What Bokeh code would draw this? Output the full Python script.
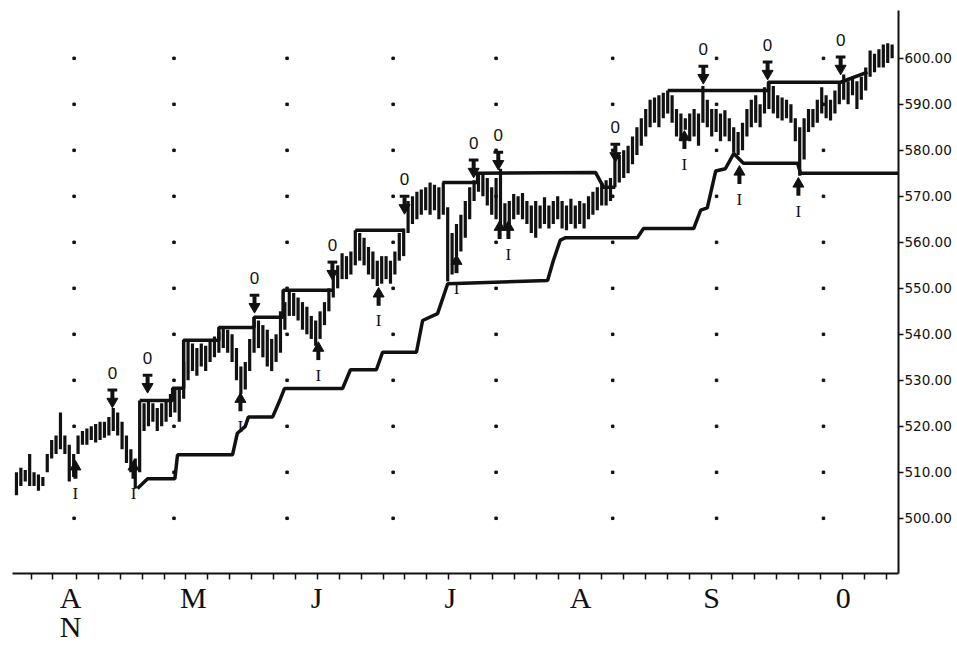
from bokeh.plotting import figure
from bokeh.models import FixedTicker, Range1d, PrintfTickFormatter
from bokeh.core.properties import value
from bokeh.embed import file_html
from bokeh.resources import INLINE

# ---- daily bars (trading day index 0..199) ----
highs = [510, 511, 510.5, 514, 510, 509.5, 509, 514, 517, 518,
         523, 518, 516, 514, 518, 519, 519.5, 520, 520.5, 521,
         521, 522, 524, 523, 521, 518, 515, 513, 525.6, 525,
         525.5, 525, 524, 525, 525.5, 527, 528.3, 528, 534, 538.7,
         538, 537, 538, 537.5, 538.5, 539.5, 540.5, 541.5, 541, 540,
         537, 533, 534, 539, 543.7, 543, 542, 541, 539, 540,
         545, 547, 549.6, 549, 548, 547, 546, 544, 543, 545,
         547, 550, 553, 555, 557.6, 557, 558, 562.6, 562, 561,
         559, 558, 556, 557, 557, 556, 558, 562, 563, 569,
         570, 571, 571.5, 572, 573, 572.5, 572, 573, 567.6, 562,
         564, 566, 569, 572, 573.5, 575, 575.2, 574, 572, 574,
         576, 568.5, 569, 570.5, 570, 570.7, 569, 568, 569, 568,
         569.8, 568, 569, 570, 569, 568, 569.5, 568, 569, 568.5,
         570, 571, 572, 573, 573.5, 574, 578.5, 579, 580, 581,
         583, 585, 587, 589, 591, 591.5, 592, 592.5, 593, 592,
         589, 588, 587, 588, 589, 588, 594, 591, 589, 589,
         588, 588.7, 587, 585, 584, 586, 589, 591, 592, 590,
         593.7, 595, 594, 592, 591.5, 591, 590, 587, 585, 587,
         589, 589, 591, 593.7, 592, 591, 593, 595, 596.5, 595,
         596, 595, 596, 598, 601.7, 601, 602, 603, 603.3, 603]
lows = [505, 507, 508, 507, 507, 506, 507, 510, 513, 514,
        515, 514, 508, 509, 514, 516, 516, 517, 516.5, 517,
        517.5, 518, 519, 518, 515, 512, 510, 506.5, 510, 519,
        520, 521, 519, 520, 521, 522, 523, 521, 526, 530,
        532, 531, 533, 532, 534, 535, 536, 537, 536, 534,
        530, 527, 528, 532, 536, 537, 535, 533, 532, 534,
        536, 541, 544, 544, 543, 541, 540, 539, 537.5, 539,
        542, 545, 548, 550, 552, 552, 553, 555, 556, 555,
        553, 552, 550.5, 551, 552, 551, 553, 556, 557, 562,
        564, 565, 566, 567, 566, 567, 565, 566, 551.5, 553,
        557, 558, 561, 565, 569, 571, 570, 568, 566, 565,
        563, 563, 564, 565, 566, 565, 564, 562, 561, 563,
        564, 563, 564, 565, 563, 562.6, 564, 563, 564, 563,
        565, 566, 567, 568, 568, 569, 572, 573, 574, 575,
        577, 579, 581, 583, 585, 586, 585, 587, 588, 586,
        583, 582, 584.5, 582, 583, 581, 586, 585, 583, 584,
        582, 583, 582, 579.5, 579, 580, 583, 585, 586, 585,
        588, 589, 588, 587, 586.5, 587, 586, 582, 574.5, 578,
        584, 585, 586, 588, 587, 586.5, 588, 590, 591, 590,
        592, 589, 591, 593, 596, 597, 598, 598, 599, 600]
days = list(range(len(highs)))

# ---- resistance (upper) and support (lower) lines ----
upper_x = [[28.0, 35.5, 35.5, 38.0, 38.0, 46.0, 46.0, 54.0, 54.0, 60.6, 60.6, 71.8],
           [77.0, 88.0],
           [96.8, 104.8, 104.8, 131.6, 133.4, 136.1],
           [148.0, 170.9, 170.9, 187.3, 193.4]]
upper_y = [[525.6, 525.6, 528.3, 528.3, 538.7, 538.7, 541.5, 541.5, 543.7, 543.7, 549.6, 549.6],
           [562.6, 562.6],
           [573.0, 573.0, 575.0, 575.2, 572.0, 572.0],
           [593.0, 593.0, 594.8, 594.8, 597.0]]
lower_x = [27.5, 29.8, 36.0, 36.6, 49.1, 50.2, 52.0, 52.7, 58.2, 60.0,
           60.9, 74.1, 75.9, 81.8, 83.2, 90.9, 92.3, 95.7, 98.0, 120.7,
           122.0, 123.6, 124.8, 141.1, 142.5, 153.9, 155.5, 157.0, 158.9, 161.1,
           163.0, 165.2, 177.5, 178.2, 200.5]
lower_y = [506.5, 508.6, 508.6, 513.8, 513.8, 518.5, 520.0, 522.0, 522.0, 526.0,
           528.2, 528.2, 532.3, 532.3, 536.1, 536.1, 543.0, 544.5, 551.0, 551.7,
           556.0, 560.5, 561.0, 561.0, 563.0, 563.0, 567.0, 567.5, 575.5, 576.0,
           579.3, 577.2, 577.2, 575.0, 575.0]

# ---- signal arrows ----
down_x = [21.8, 29.8, 54.1, 71.8, 88.2, 103.9, 109.5, 136.1, 156.1, 170.7, 187.3]
down_v = [524.6, 527.8, 545.2, 552.4, 566.7, 574.6, 576.3, 578.0, 595.0, 595.9, 597.0]
up_x = [13.4, 26.6, 50.9, 68.6, 82.3, 100.0, 109.8, 111.8, 151.8, 164.3, 177.7]
up_v = [512.0, 512.0, 526.7, 537.8, 549.6, 556.7, 564.1, 564.1, 583.7, 576.1, 573.5]
up_labelled = [True, True, True, True, True, True, False, True, True, True, True]

# ---- axes ----
y_ticks = [500, 510, 520, 530, 540, 550, 560, 570, 580, 590, 600]
grid_cols = [13.1, 35.8, 61.5, 85.6, 109.0, 135.5, 159.1, 183.4]
week_ticks = [3.4, 8.3, 13.6, 18.6, 23.6, 28.6, 33.6, 38.5, 43.5, 48.5,
              53.4, 58.4, 63.4, 68.4, 73.3, 78.3, 83.3, 88.2, 93.2, 98.2,
              103.2, 108.1, 113.1, 118.1, 123.1, 128.0, 133.0, 138.0, 142.9, 147.9,
              152.9, 157.9, 162.8, 167.8, 172.8, 177.8, 182.7, 187.7, 192.7, 197.7]
month_pos = [12.3, 40.2, 68.2, 98.6, 128.2, 158.0, 187.9]
month_names = ["A\nN", "M", "J", "J", "A", "S", "0"]

p = figure(width=957, height=647, output_backend="svg", toolbar_location=None,
           x_range=Range1d(-0.9, 200.45), y_range=Range1d(488.0, 610.4),
           y_axis_location="right",
           min_border_left=12, min_border_right=59, min_border_top=10, min_border_bottom=74)
p.outline_line_color = None
p.grid.visible = False
p.background_fill_color = "white"
p.border_fill_color = "white"

BLACK = "#111111"

# grid dots
gx = [x for x in grid_cols for _ in y_ticks]
gy = [y for _ in grid_cols for y in y_ticks]
p.scatter(gx, gy, size=2.5, marker="square", color=BLACK)

# price bars
p.segment(x0=days, y0=lows, x1=days, y1=highs, line_width=3.2, line_color=BLACK)

# lines
p.multi_line(xs=upper_x, ys=upper_y, line_width=3.5, line_color=BLACK)
p.line(lower_x, lower_y, line_width=3.5, line_color=BLACK)

# down arrows (bar on top, stem, head) and "0" labels
p.scatter(down_x, [v + 0.8 for v in down_v], marker="inverted_triangle",
          size=11, color=BLACK)
p.segment(x0=down_x, y0=[v + 1.3 for v in down_v], x1=down_x, y1=[v + 3.1 for v in down_v],
          line_width=4, line_color=BLACK)
p.segment(x0=[x - 1.1 for x in down_x], y0=[v + 3.3 for v in down_v],
          x1=[x + 1.1 for x in down_x], y1=[v + 3.3 for v in down_v],
          line_width=3, line_color=BLACK)
p.text(down_x, [v + 7.0 for v in down_v], text=["0"] * len(down_x),
       text_font=value("Liberation Sans"), text_font_size="17px", text_align="center",
       text_baseline="middle", text_color=BLACK)

# up arrows and "I" labels
p.scatter(up_x, [v - 0.8 for v in up_v], marker="triangle", size=11, color=BLACK)
p.segment(x0=up_x, y0=[v - 1.3 for v in up_v], x1=up_x, y1=[v - 3.4 for v in up_v],
          line_width=4, line_color=BLACK)
ix = [x for x, f in zip(up_x, up_labelled) if f]
iv = [v - 6.7 for v, f in zip(up_v, up_labelled) if f]
p.text(ix, iv, text=["I"] * len(ix), text_font=value("Liberation Serif"),
       text_font_size="17px", text_align="center", text_baseline="middle", text_color=BLACK)

# bottom axis: weekly ticks + month letters
xa = p.xaxis[0]
xa.ticker = FixedTicker(ticks=month_pos, minor_ticks=week_ticks)
xa.major_label_overrides = {k: t for k, t in zip(month_pos, month_names)}
xa.major_tick_line_color = None
xa.major_tick_out = 6
xa.major_tick_in = 0
xa.minor_tick_out = 6
xa.minor_tick_in = 0
xa.minor_tick_line_width = 1.5
xa.minor_tick_line_color = BLACK
xa.axis_line_width = 2
xa.axis_line_color = BLACK
xa.major_label_standoff = 1
xa.major_label_text_font = "Liberation Serif"
xa.major_label_text_font_size = "30px"
xa.major_label_text_line_height = 0.9
xa.major_label_text_color = BLACK

# right price axis
ya = p.yaxis[0]
ya.ticker = FixedTicker(ticks=y_ticks, minor_ticks=[])
ya.formatter = PrintfTickFormatter(format="%.2f")
ya.major_tick_out = 5
ya.major_tick_in = 0
ya.major_label_standoff = 1
ya.major_label_text_font = "DejaVu Sans"
ya.major_label_text_font_size = "13.5px"
ya.major_label_text_color = BLACK
ya.axis_line_width = 2
ya.axis_line_color = BLACK
ya.major_tick_line_width = 1.5
ya.major_tick_line_color = BLACK

open("out.html", "w").write(file_html(p, INLINE))
